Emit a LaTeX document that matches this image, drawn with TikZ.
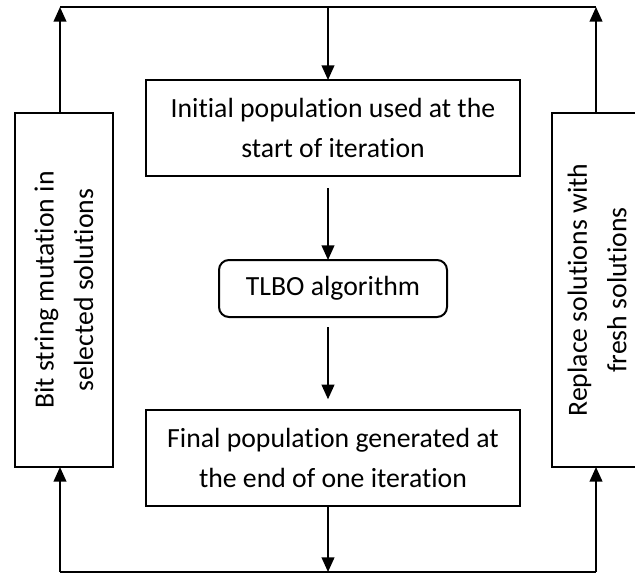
\documentclass[tikz,border=0pt]{standalone}
\usepackage{fontspec}
\setmainfont{Carlito}[Ligatures=NoCommon]
\usetikzlibrary{arrows.meta}
\tikzset{
  box/.style={draw, line width=1.5pt, outer sep=0pt, inner sep=0pt, align=center,
    font=\fontsize{20.8}{29.6}\selectfont},
  rtext/.style={rotate=90, align=center, inner sep=0pt, font=\fontsize{20.8}{29.6}\selectfont},
  arr/.style={line width=1.5pt, -{Triangle[length=11pt,width=9.5pt]}},
  ln/.style={line width=1.5pt}
}
\begin{document}
\begin{tikzpicture}[x=0.75pt,y=-0.75pt]
\clip (0,0) rectangle (635,574);
\coordinate (tl) at (60,7);
\coordinate (tr) at (596,7);
\coordinate (tc) at (328,7);
\coordinate (bl) at (60,572);
\coordinate (br) at (596,572);
\coordinate (bc) at (328,572);

\node[box, minimum width=280.5pt, minimum height=72pt] (init) at (333,128)
  {Initial population used at the\\start of iteration};
\node[box, rounded corners=7.5pt, minimum width=171pt, minimum height=42.75pt] (tlbo) at (333,288.5)
  {TLBO algorithm};
\node[box, minimum width=280.5pt, minimum height=72pt] (final) at (333,458)
  {Final population generated at\\the end of one iteration};
\node[box, minimum width=73.5pt, minimum height=265.5pt] (left) at (64,290) {};
\node[rtext] (lefttxt) at (left.center) {Bit string mutation in\\selected solutions};
\node[box, minimum width=73.5pt, minimum height=265.5pt] (right) at (601,290) {};
\node[rtext] (righttxt) at (597,290) {Replace solutions with\\fresh solutions};

\draw[arr] (left.north -| tl) -- (tl);
\draw[ln] (tl) -- (tr);
\draw[arr] (right.north -| tr) -- (tr);
\draw[arr] (tc) -- (init.north -| tc);
\draw[arr, shorten <=9pt] (init.south -| tc) -- (tlbo.north -| tc);
\draw[arr, shorten <=7.5pt, shorten >=8pt] (tlbo.south -| tc) -- (final.north -| tc);
\draw[arr] (final.south -| tc) -- (bc);
\draw[ln] (bl) -- (br);
\draw[arr] (bl) -- (left.south -| bl);
\draw[arr] (br) -- (right.south -| br);
\end{tikzpicture}
\end{document}
